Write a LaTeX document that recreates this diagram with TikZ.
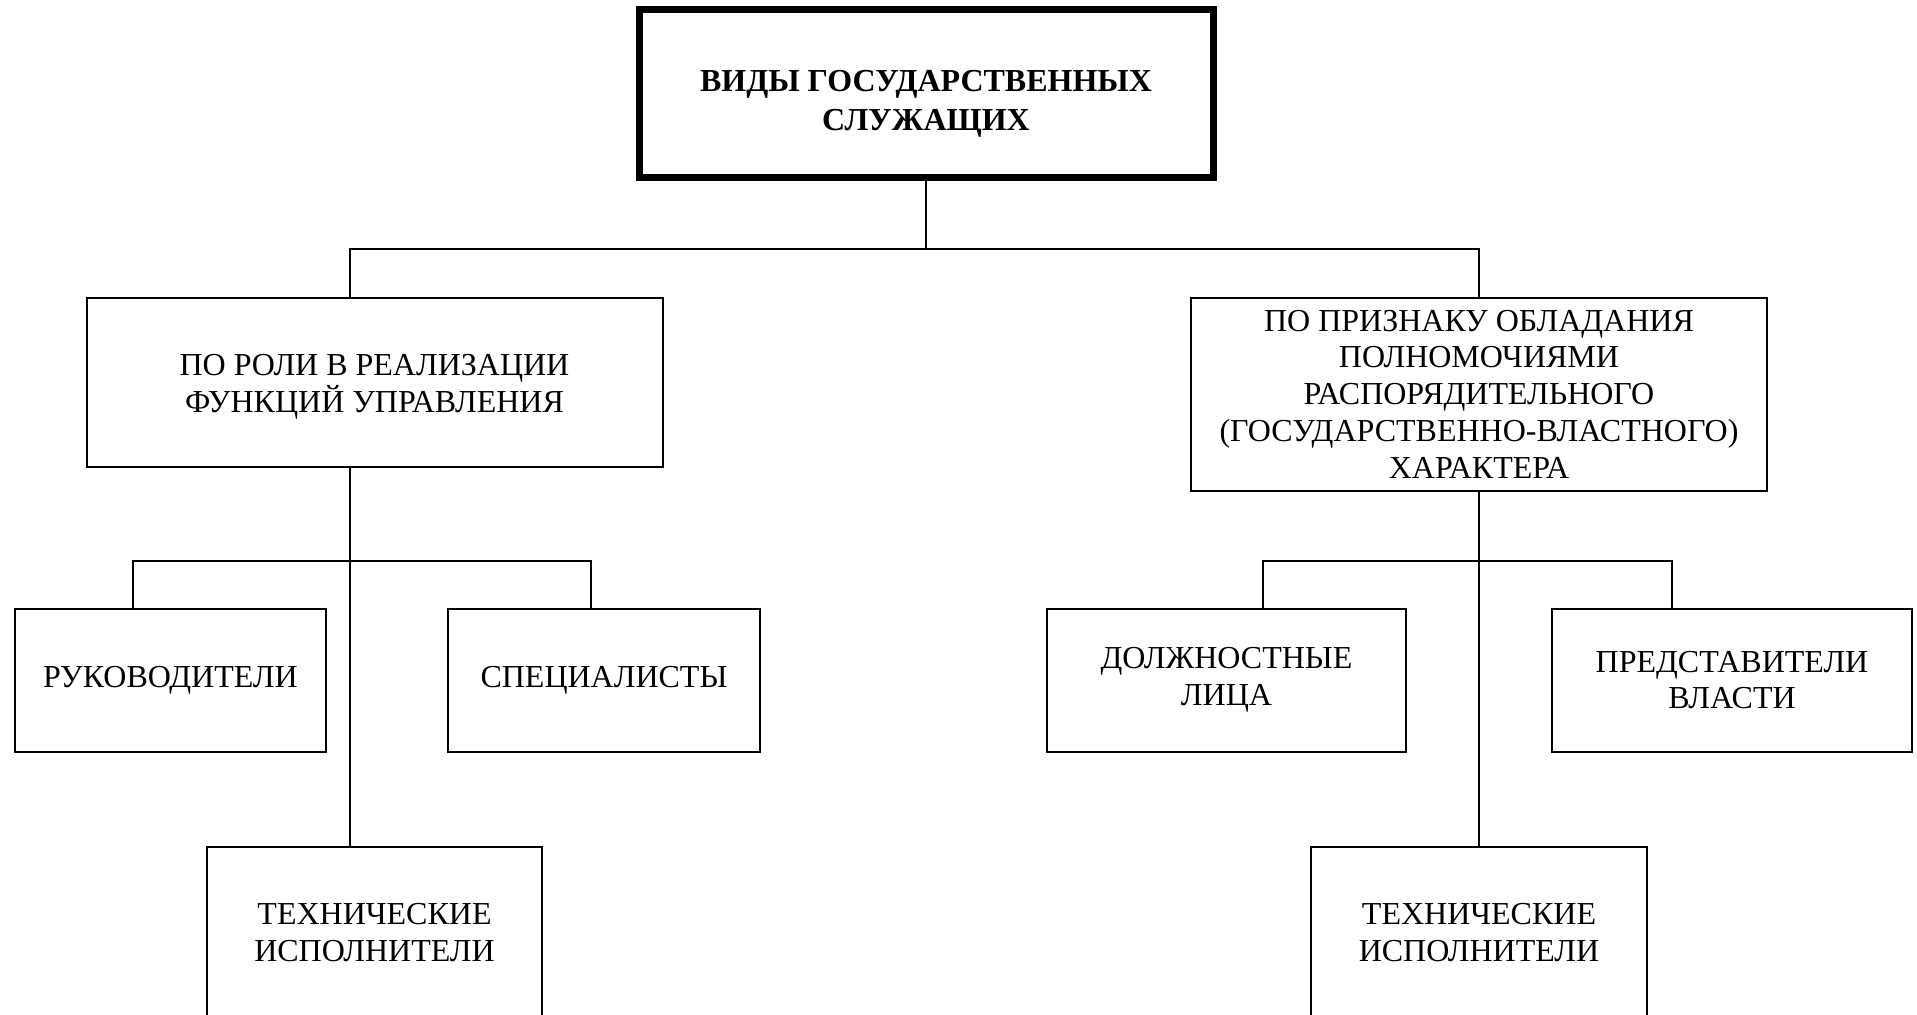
\documentclass[tikz,border=0pt]{standalone}
\usepackage{fontspec}
\setmainfont{Liberation Serif}
\usetikzlibrary{calc,positioning}
\tikzstyle{kind}=[rectangle,draw=black,line width=1pt,inner sep=3pt,align=center,
font=\fontsize{16pt}{18.4pt}\selectfont]
\tikzstyle{root}=[kind,line width=3.5pt,font=\fontsize{16pt}{19.5pt}\selectfont\bfseries]
\tikzstyle{link}=[draw=black,line width=1pt]
\newcommand{\padtop}[1]{\rule{0pt}{#1}}

\begin{document}
\begin{tikzpicture}[x=0.5pt,y=-0.5pt]
    \useasboundingbox (0,0) rectangle (1917,1014);
    \clip (0,0) rectangle (1917,1014);

    \node[root, minimum width=287pt, minimum height=84pt] (top) at (926,93) {\padtop{21.6pt}ВИДЫ ГОСУДАРСТВЕННЫХ\\СЛУЖАЩИХ};

    \node[kind, minimum width=288pt, minimum height=84.5pt] (role) [below=58pt of top, xshift=-275.75pt] {\padtop{15.6pt}ПО РОЛИ В РЕАЛИЗАЦИИ\\ФУНКЦИЙ УПРАВЛЕНИЯ};
    \node[kind, minimum width=288pt, minimum height=96.5pt] (power) [below=58pt of top, xshift=276.5pt] {ПО ПРИЗНАКУ ОБЛАДАНИЯ\\ПОЛНОМОЧИЯМИ\\РАСПОРЯДИТЕЛЬНОГО\\(ГОСУДАРСТВЕННО-ВЛАСТНОГО)\\ХАРАКТЕРА};

    \node[kind, minimum width=155.5pt, minimum height=71.5pt] (chiefs) [below=70pt of role, xshift=-102pt] {РУКОВОДИТЕЛИ};
    \node[kind, minimum width=156pt, minimum height=71.5pt] (experts) [right=60pt of chiefs] {СПЕЦИАЛИСТЫ};
    \node[kind, minimum width=167.5pt, minimum height=86pt] (techl) [below=189pt of role] {ТЕХНИЧЕСКИЕ\\ИСПОЛНИТЕЛИ};

    \node[kind, minimum width=179.5pt, minimum height=71.5pt] (officials) [below=58pt of power, xshift=-126.25pt] {ДОЛЖНОСТНЫЕ\\ЛИЦА};
    \node[kind, minimum width=180pt, minimum height=71.5pt] (agents) [right=72pt of officials] {ПРЕДСТАВИТЕЛИ\\ВЛАСТИ};
    \node[kind, minimum width=168pt, minimum height=86pt] (techr) [below=177pt of power] {ТЕХНИЧЕСКИЕ\\ИСПОЛНИТЕЛИ};

    % upper level
    \draw[link] (top.south) -- ++(0,68) coordinate (split);
    \coordinate (lstem) at ($(role.north west)!0.458!(role.north east)$);
    \draw[link] (lstem) -- (lstem |- split) -- (split -| power.north) -- (power.north);

    % left branch
    \draw[link] (role.south -| lstem) -- (lstem |- techl.north);
    \coordinate (lfork) at ($(role.south -| lstem)!0.67!(lstem |- chiefs.north)$);
    \draw[link] ($(chiefs.north west)!0.38!(chiefs.north east)$) |- (lfork)
        -| ($(experts.north west)!0.46!(experts.north east)$);

    % right branch
    \draw[link] (power.south) -- (techr.north);
    \coordinate (rfork) at ($(power.south)!0.6!(power.south |- officials.north)$);
    \draw[link] ($(officials.north west)!0.6!(officials.north east)$) |- (rfork)
        -| ($(agents.north west)!0.333!(agents.north east)$);
\end{tikzpicture}
\end{document}
